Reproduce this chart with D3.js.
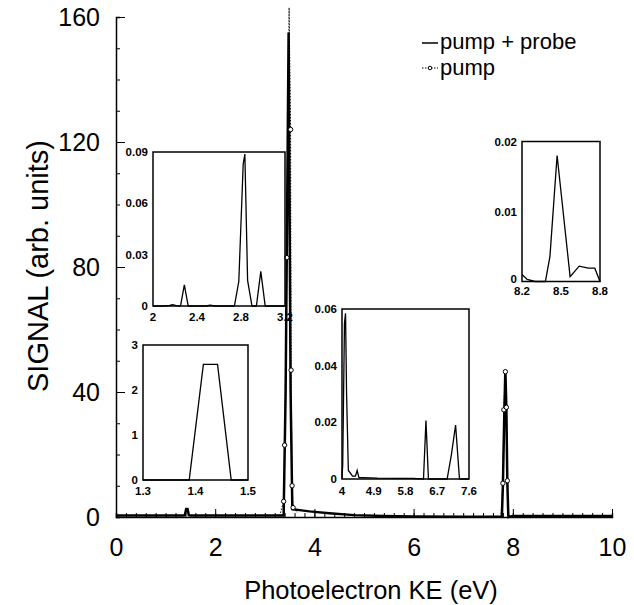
<!DOCTYPE html>
<html>
<head>
<meta charset="utf-8">
<script src="https://cdn.jsdelivr.net/npm/d3@7"></script>
<style>
  body { margin: 0; background: #fff; }
  svg { font-family: 'Liberation Sans', Arial, sans-serif; }
</style>
</head>
<body>
<div id="chart"></div>
<script>
// main traces (eV, arb. units)
var probeKE = [0, 0.5, 1.0, 1.36, 1.388, 1.415, 1.442, 1.468, 1.5, 2.0, 2.5, 3.0, 3.38, 3.42, 3.48, 3.52, 3.555, 3.6, 3.7, 3.9, 4.3, 4.8, 5.4, 6.0, 7.0, 7.7, 7.78, 7.80, 7.83, 7.85, 7.87, 7.89, 7.91, 8.0, 9.0, 10.0];
var probeSignal = [0.5, 0.5, 0.5, 0.5, 0.6, 2.6, 2.6, 0.6, 0.5, 0.5, 0.5, 0.5, 0.5, 40, 155, 40, 2.5, 2.4, 2.2, 1.8, 1.2, 0.6, 0.3, 0.2, 0.1, 0.1, 0.2, 10, 34, 47, 35, 11, 0, 0.3, 0.3, 0.3];

var pumpKE = [3.30, 3.38, 3.40, 3.445, 3.49, 3.52, 3.53, 3.55, 3.57, 3.65, null, 7.76, 7.80, 7.82, 7.85, 7.87, 7.89, 7.92];
var pumpSignal = [0.4, 5, 23, 83, 163, 124, 47, 10, 3, 1.5, null, 0, 10.8, 34.3, 46.5, 35.1, 11.6, 0];

// insets
var insetA_KE = [2.0, 2.1, 2.15, 2.18, 2.21, 2.25, 2.285, 2.32, 2.4, 2.48, 2.52, 2.56, 2.7, 2.74, 2.78, 2.82, 2.835, 2.86, 2.9, 2.94, 2.98, 3.02, 3.06, 3.2];
var insetA_signal = [0, 0, 0.0003, 0.0008, 0.0002, 0, 0.0124, 0, 0, 0, 0.0005, 0, 0, 0, 0.0143, 0.083, 0.0888, 0.015, 0, 0, 0.0202, 0, 0, 0];

var insetB_KE = [1.3, 1.388, 1.415, 1.442, 1.468, 1.5];
var insetB_signal = [0, 0, 2.57, 2.57, 0, 0];

var insetC_KE = [4.0, 4.02, 4.07, 4.1, 4.13, 4.18, 4.3, 4.38, 4.43, 4.48, 4.6, 5.0, 5.6, 6.0, 6.31, 6.38, 6.45, 6.9, 6.98, 7.1, 7.22, 7.33, 7.5, 7.6];
var insetC_signal = [0, 0.005, 0.055, 0.0585, 0.03, 0.003, 0.001, 0.001, 0.003, 0.0005, 0.0005, 0.0003, 0.0002, 0.0002, 0, 0.0206, 0, 0, 0, 0.0085, 0.019, 0, 0, 0];

var insetD_KE = [8.2, 8.24, 8.3, 8.38, 8.415, 8.47, 8.57, 8.64, 8.71, 8.76, 8.8];
var insetD_signal = [0.001, 0.0003, 0, 0, 0.0036, 0.018, 0.0007, 0.0022, 0.0019, 0.0019, 0];

// tick labels
var xTicks = [0, 2, 4, 6, 8, 10];
var yTicks = [0, 40, 80, 120, 160];
var insetA_xTicks = [2, 2.4, 2.8, 3.2];
var insetA_yTicks = [0, 0.03, 0.06, 0.09];
var insetB_xTicks = [1.3, 1.4, 1.5];
var insetB_yTicks = [0, 1, 2, 3];
var insetC_xTicks = [4, 4.9, 5.8, 6.7, 7.6];
var insetC_yTicks = [0, 0.02, 0.04, 0.06];
var insetD_xTicks = [8.2, 8.5, 8.8];
var insetD_yTicks = [0, 0.01, 0.02];

var svg = d3.select('#chart')
    .append('svg')
    .attr('width', 634)
    .attr('height', 605);

var x = d3.scaleLinear().domain([0, 10]).range([116, 612]);
var y = d3.scaleLinear().domain([0, 160]).range([517, 17]);

// x axis: major + minor ticks pointing up
svg.append('g')
    .attr('transform', 'translate(0,517)')
    .call(d3.axisBottom(x).tickValues(d3.range(0, 10.01, 0.2)).tickSize(-4).tickFormat(''))
    .call(function(g) { g.select('.domain').attr('stroke-width', 1.5); });

svg.append('g')
    .attr('transform', 'translate(0,517)')
    .call(d3.axisBottom(x).tickValues(xTicks).tickSize(-8).tickPadding(21))
    .call(function(g) {
        g.select('.domain').remove();
        g.selectAll('text').attr('font-size', '25px').attr('fill', '#000');
    });

// y axis
svg.append('g')
    .attr('transform', 'translate(116,0)')
    .call(d3.axisLeft(y).tickValues(d3.range(0, 161, 10)).tickSize(-4).tickFormat(''))
    .call(function(g) { g.select('.domain').attr('stroke-width', 1.5); });

svg.append('g')
    .attr('transform', 'translate(116,0)')
    .call(d3.axisLeft(y).tickValues(yTicks).tickSize(-9).tickPadding(16))
    .call(function(g) {
        g.select('.domain').remove();
        g.selectAll('text').attr('font-size', '25px').attr('fill', '#000');
    });

// pump + probe (solid, thick)
var probeLine = d3.line()
    .x(function(d) { return x(d[0]); })
    .y(function(d) { return y(d[1]); });

svg.append('path')
    .datum(probeKE.map(function(k, i) { return [k, probeSignal[i]]; }))
    .attr('fill', 'none')
    .attr('stroke', '#000')
    .attr('stroke-width', 2.5)
    .attr('d', probeLine);

// pump (dotted with circles)
var pumpData = pumpKE.map(function(k, i) { return [k, pumpSignal[i]]; });
svg.append('path')
    .datum(pumpData)
    .attr('fill', 'none')
    .attr('stroke', '#000')
    .attr('stroke-width', 1)
    .attr('stroke-dasharray', '1.5,1.5')
    .attr('d', probeLine.defined(function(d) { return d[0] !== null; }));

svg.selectAll('.pumpdot')
    .data(pumpData.filter(function(d) { return d[0] !== null && d[1] > 2 && d[1] < 160; }))
    .enter()
    .append('circle')
    .attr('class', 'pumpdot')
    .attr('cx', function(d) { return x(d[0]); })
    .attr('cy', function(d) { return y(d[1]); })
    .attr('r', 2.2)
    .attr('fill', '#fff')
    .attr('stroke', '#000')
    .attr('stroke-width', 1);

// axis titles
svg.append('text')
    .attr('transform', 'translate(48,266) rotate(-90)')
    .attr('text-anchor', 'middle')
    .attr('font-size', '29px')
    .text('SIGNAL (arb. units)');

svg.append('text')
    .attr('x', 371)
    .attr('y', 599)
    .attr('text-anchor', 'middle')
    .attr('font-size', '25.5px')
    .text('Photoelectron KE (eV)');

// legend
svg.append('line')
    .attr('x1', 422).attr('x2', 438).attr('y1', 43).attr('y2', 43)
    .attr('stroke', '#000').attr('stroke-width', 1.5);
svg.append('text')
    .attr('x', 440).attr('y', 49)
    .attr('font-size', '22px')
    .text('pump + probe');
svg.append('line')
    .attr('x1', 422).attr('x2', 438).attr('y1', 68).attr('y2', 68)
    .attr('stroke', '#000').attr('stroke-width', 1).attr('stroke-dasharray', '1.5,1.5');
svg.append('circle')
    .attr('cx', 430).attr('cy', 68).attr('r', 1.8)
    .attr('fill', '#fff').attr('stroke', '#000');
svg.append('text')
    .attr('x', 440).attr('y', 75)
    .attr('font-size', '22px')
    .text('pump');

// insets
function inset(box, xDomain, yDomain, ke, sig, xt, yt, fmt, xLabelGap, zeroShift) {
    var ix = d3.scaleLinear().domain(xDomain).range([box[0], box[1]]);
    var iy = d3.scaleLinear().domain(yDomain).range([box[3], box[2]]);
    var g = svg.append('g');

    g.append('rect')
        .attr('x', box[0]).attr('y', box[2])
        .attr('width', box[1] - box[0]).attr('height', box[3] - box[2])
        .attr('fill', 'none').attr('stroke', '#000').attr('stroke-width', 1.5);

    g.append('path')
        .datum(ke.map(function(k, i) { return [k, sig[i]]; }))
        .attr('fill', 'none')
        .attr('stroke', '#000')
        .attr('stroke-width', 1.3)
        .attr('d', d3.line()
            .x(function(d) { return ix(d[0]); })
            .y(function(d) { return iy(d[1]); }));

    g.selectAll('.xl')
        .data(xt)
        .enter()
        .append('text')
        .attr('x', function(d) { return ix(d); })
        .attr('y', box[3] + xLabelGap)
        .attr('text-anchor', 'middle')
        .attr('font-size', '11.5px')
        .attr('font-weight', 'bold')
        .text(function(d) { return d3.format(fmt[0])(d); });

    g.selectAll('.yl')
        .data(yt)
        .enter()
        .append('text')
        .attr('x', box[0] - 5)
        .attr('y', function(d) { return iy(d) - (d === 0 ? zeroShift : 0); })
        .attr('dy', '0.36em')
        .attr('text-anchor', 'end')
        .attr('font-size', '11.5px')
        .attr('font-weight', 'bold')
        .text(function(d) { return d === 0 ? '0' : d3.format(fmt[1])(d); });
}

inset([153, 285, 152, 306], [2, 3.2], [0, 0.09], insetA_KE, insetA_signal, insetA_xTicks, insetA_yTicks, ['~g', '.2f'], 15, 0);
inset([143, 248, 345, 480], [1.3, 1.5], [0, 3], insetB_KE, insetB_signal, insetB_xTicks, insetB_yTicks, ['.1f', 'd'], 15, 0);
inset([342, 469, 309, 479], [4, 7.6], [0, 0.06], insetC_KE, insetC_signal, insetC_xTicks, insetC_yTicks, ['~g', '.2f'], 16, 0);
inset([522, 600, 141.5, 281.5], [8.2, 8.8], [0, 0.02], insetD_KE, insetD_signal, insetD_xTicks, insetD_yTicks, ['.1f', '.2f'], 13, 3);
</script>
</body>
</html>
